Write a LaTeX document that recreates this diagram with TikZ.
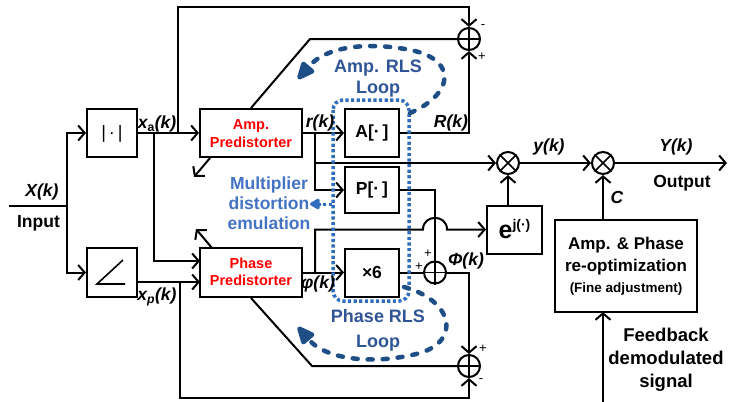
\documentclass[tikz,border=0pt]{standalone}
\usepackage{fontspec}
\setmainfont{Liberation Sans}
\usetikzlibrary{arrows.meta}
\definecolor{predred}{RGB}{255,0,0}
\definecolor{emublue}{RGB}{68,114,196}
\definecolor{dotblue}{RGB}{46,110,188}
\definecolor{loopblue}{RGB}{31,78,135}
\definecolor{looptext}{RGB}{47,85,151}
\begin{document}
\begin{tikzpicture}[x=1pt,y=-1pt,
  line width=2pt, line join=miter,
  >={Straight Barb[length=6.5pt,width=15pt]},
  box/.style={draw, line width=2pt, inner sep=0pt, font=\bfseries\fontsize{17.5}{20}\selectfont},
  sumnode/.style={draw, circle, line width=2pt, minimum size=22pt, inner sep=0pt},
  lbl/.style={inner sep=0pt, font=\bfseries\itshape\fontsize{17.5}{20}\selectfont},
  plainlbl/.style={inner sep=0pt, font=\bfseries\fontsize{17.5}{20}\selectfont},
  predtext/.style={inner sep=0pt, text=predred, align=center, font=\bfseries\fontsize{14.5}{18}\selectfont},
  sign/.style={inner sep=0pt, font=\fontsize{13}{13}\selectfont},
  dotrect/.style={draw=dotblue, line width=3.5pt, line cap=butt, dash pattern=on 3.2pt off 2.4pt},
  loopst/.style={draw=loopblue, line width=4.5pt, line cap=round, dash pattern=on 5pt off 10pt,
     -{Triangle[length=21pt,width=17pt,round=false]}},
  looplbl/.style={inner sep=0pt, text=looptext, align=center, font=\bfseries\fontsize{18}{21.5}\selectfont}
]
\useasboundingbox (0,0) rectangle (732,402);

% ---------- blocks ----------
\node[box, minimum width=50pt, minimum height=48pt] (abs) at (112,133) {};
\node[inner sep=0pt, font=\fontsize{18}{18}\selectfont] (abstxt) at (112,134) {|\,·\,|};
\node[box, minimum width=50pt, minimum height=49pt] (ang) at (112,272.5) {};
\draw[line width=1.6pt] (123,260) -- (97,284) -- (125,284);

\node[box, minimum width=102pt, minimum height=48pt] (ampP) at (251,133) {};
\node[predtext] (ampPt) at (251,134) {Amp.\\Predistorter};
\node[box, minimum width=102pt, minimum height=49pt] (phP) at (251,272.5) {};
\node[predtext, font=\bfseries\fontsize{14.5}{17}\selectfont] (phPt) at (251,271.5) {Phase\\Predistorter};

\node[box, minimum width=54pt, minimum height=48pt] (A) at (372,133) {A[·\,]};
\node[box, minimum width=54pt, minimum height=46pt] (P) at (372,190) {P[·\,]};
\node[box, minimum width=54pt, minimum height=48pt] (six) at (372,272.5) {×6};
\node[box, minimum width=55pt, minimum height=48pt] (ej) at (514.5,229.5)
  {\fontsize{25}{25}\selectfont e\raisebox{9pt}{\fontsize{14}{14}\selectfont j(·)}};
\node[box, minimum width=142pt, minimum height=92pt] (opt) at (626,266) {};
\node[plainlbl, font=\bfseries\fontsize{17}{20}\selectfont] (opt1) at (626,245) {Amp. \& Phase};
\node[plainlbl, font=\bfseries\fontsize{17}{20}\selectfont] (opt2) at (626,267) {re-optimization};
\node[plainlbl, font=\bfseries\fontsize{13.5}{15}\selectfont] (opt3) at (626,289) {(Fine adjustment)};

% ---------- summers / multipliers ----------
\node[sumnode] (s1) at (469,39) {};
\draw[line width=1.6pt] (s1.north) -- (s1.south) (s1.west) -- (s1.east);
\node[sumnode] (s2) at (469,366) {};
\draw[line width=1.6pt] (s2.north) -- (s2.south) (s2.west) -- (s2.east);
\node[sumnode] (sp) at (435,272.5) {};
\draw[line width=1.6pt] (sp.north) -- (sp.south) (sp.west) -- (sp.east);
\node[sumnode] (m1) at (508,163) {};
\draw[line width=1.6pt] (m1.north west) -- (m1.south east) (m1.north east) -- (m1.south west);
\node[sumnode] (m2) at (603,163) {};
\draw[line width=1.6pt] (m2.north west) -- (m2.south east) (m2.north east) -- (m2.south west);

% ---------- coordinates ----------
\coordinate (in) at (9,206);
\coordinate (bus) at (67,206);
\coordinate (xa1) at (154,133);
\coordinate (xa2) at (178,133);
\coordinate (tl) at (178,7);
\coordinate (phIn1) at (200,261);
\coordinate (phIn2) at (200,282);
\coordinate (angOut) at (137,282);
\coordinate (xp1) at (180,282);
\coordinate (bl) at (180,398);
\coordinate (ampK) at (310,39);
\coordinate (phK) at (312,366);
\coordinate (r1) at (315,133);
\coordinate (r2) at (315,163);
\coordinate (ph1) at (315,272.5);
\coordinate (ph2) at (315,229.5);
\coordinate (h1) at (423,229.5);
\coordinate (h2) at (447,229.5);
\coordinate (ejTop) at (508,205.5);
\coordinate (outEnd) at (727,163);
\coordinate (optTop) at (603,220);
\coordinate (optBot) at (603,312);
\coordinate (fb) at (603,402);
\coordinate (ampC) at (210,158);
\coordinate (ampA) at (194,177);
\coordinate (phC) at (212,248);
\coordinate (phA) at (196,229);

% ---------- connectors ----------
\draw (in) -- (bus);
\draw[->] (bus) |- (abs.west);
\draw[->] (bus) |- (ang.west);
\draw[->] (abs.east) -- (ampP.west);
\draw[->] (xa1) |- (phIn1);
\draw[->] (angOut) -- (phIn2);
\draw[->] (xa2) -- (tl) -| (s1.north);
\draw[->] (xp1) -- (bl) -| (s2.south);
\draw (ampP.north) -- (ampK) -- (s1.west);
\draw (phP.south) -- (phK) -- (s2.west);
\draw[->] (ampP.east) -- (A.west);
\draw[->] (r1) |- (P.west);
\draw[->] (r2) -- (m1.west);
\draw[->] (A.east) -| (s1.south);
\draw (P.east) -| (sp.north);
\draw (six.east) -- (sp.west);
\draw[->] (sp.east) -| (s2.north);
\draw[->] (phP.east) -- (six.west);
\draw[->] (ph1) -- (ph2) -- (h1) .. controls (423,214) and (447,214) .. (h2) -- (ej.west);
\draw[->] (ejTop) -- (m1.south);
\draw[->] (m1.east) -- (m2.west);
\draw[->] (m2.east) -- (outEnd);
\draw[->] (optTop) -- (m2.south);
\draw[->] (fb) -- (optBot);
\draw[->] (ampC) -- (ampA);
\draw[->] (phC) -- (phA);

% ---------- blue overlays ----------
\draw[dotrect, rounded corners=10pt] (333,100) rectangle (409,301);
\node[inner sep=0pt, text=emublue, align=center, font=\bfseries\fontsize{17.5}{20}\selectfont] (emu) at (269,203)
  {Multiplier\\distortion\\emulation};
\coordinate (dr) at (332,204);
\draw[dotrect, line width=3pt, -{Triangle[length=11pt,width=12pt,round=false]}, fill=dotblue] (dr) -- (310,204);

\draw[loopst] (410,113) .. controls (452,95) and (458,62) .. (415,51)
   .. controls (375,42) and (328,44) .. (298,79);
\draw[loopst] (404,287) .. controls (452,300) and (462,340) .. (420,353)
   .. controls (380,364) and (328,362) .. (298,327);
\node[looplbl] (amploop) at (378,78.5) {Amp. RLS\\Loop};
\node[looplbl, font=\bfseries\fontsize{18}{24.5}\selectfont] (phloop) at (378,330.5) {Phase RLS\\Loop};

% ---------- labels ----------
\node[lbl] (Xk) at (42,192) {X(k)};
\node[plainlbl] (inp) at (38.5,223) {Input};
\node[lbl] (xak) at (157,124) {x\textsubscript{\upshape a}(k)};
\node[lbl] (xpk) at (157,297) {x\textsubscript{p}(k)};
\node[lbl] (rk) at (320,123) {r(k)};
\node[lbl] (Rk) at (451,123) {R(k)};
\node[lbl] (phik) at (318,284) {φ(k)};
\node[lbl] (Phik) at (466,261) {Φ(k)};
\node[lbl] (yk) at (549,147) {y(k)};
\node[lbl] (Yk) at (676,147) {Y(k)};
\node[plainlbl] (outp) at (682,183) {Output};
\node[lbl] (Cl) at (617,197) {C};
\node[plainlbl, align=center, font=\bfseries\fontsize{18.5}{23}\selectfont] (fbt) at (666,360)
  {Feedback\\demodulated\\signal};

\node[sign] (s1m) at (483,27) {-};
\node[sign] (s1p) at (482,57) {+};
\node[sign] (s2p) at (483,349) {+};
\node[sign] (s2m) at (481,381) {-};
\node[sign] (spp1) at (428,254) {+};
\node[sign] (spp2) at (419,267) {+};
\end{tikzpicture}
\end{document}
